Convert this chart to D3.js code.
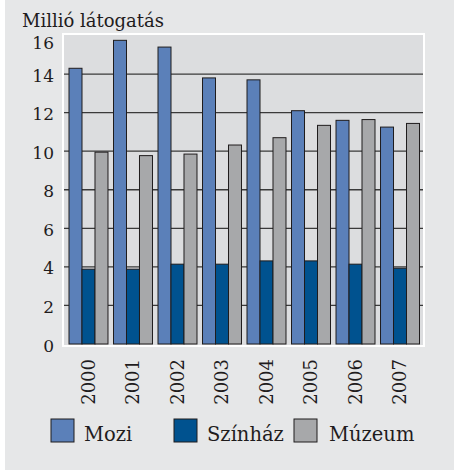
<!DOCTYPE html>
<html>
<head>
<meta charset="utf-8">
<script src="https://cdn.jsdelivr.net/npm/d3@7"></script>
<style>
  body { margin: 0; background: #fff; }
  svg { display: block; }
</style>
</head>
<body>
<svg id="chart" width="454" height="473"></svg>
<script>
// Data
var years = ["2000", "2001", "2002", "2003", "2004", "2005", "2006", "2007"];
var series = ["Mozi", "Színház", "Múzeum"];
var mozi = [14.3, 15.75, 15.4, 13.8, 13.7, 12.1, 11.6, 11.25];
var szinhaz = [3.88, 3.88, 4.14, 4.14, 4.31, 4.31, 4.14, 3.93];
var muzeum = [9.95, 9.77, 9.85, 10.32, 10.7, 11.34, 11.64, 11.44];
var yTicks = [0, 2, 4, 6, 8, 10, 12, 14, 16];
var colors = ["#5b80b9", "#00528f", "#a7a8aa"];

var serif = "'DejaVu Serif', serif";
var ink = "#1f1c1d";

var rows = years.map(function (y, i) {
    return { year: y, values: [mozi[i], szinhaz[i], muzeum[i]] };
});

var svg = d3.select("#chart");

// outer panel
svg.append("rect")
    .attr("x", 5).attr("y", 0)
    .attr("width", 449).attr("height", 470)
    .attr("fill", "#e6e7e8");

// plot frame
var plot = { left: 63, top: 34, right: 424, bottom: 346 };
svg.append("rect")
    .attr("x", plot.left).attr("y", plot.top)
    .attr("width", plot.right - plot.left).attr("height", plot.bottom - plot.top)
    .attr("fill", "#dcdddf")
    .attr("stroke", "#ffffff")
    .attr("stroke-width", 2);

// scales
var yScale = d3.scaleLinear().domain([0, 16]).range([344, 35.5]);
var x0 = d3.scaleBand().domain(years).range([69, 419.5]).paddingInner(0.124);
var x1 = d3.scaleBand().domain(series).range([0, x0.bandwidth()]);

// gridlines
svg.append("g")
    .selectAll("line")
    .data(yTicks.filter(function (d) { return d > 0 && d < 16; }))
    .enter().append("line")
    .attr("x1", plot.left + 1).attr("x2", plot.right - 1)
    .attr("y1", function (d) { return yScale(d); })
    .attr("y2", function (d) { return yScale(d); })
    .attr("stroke", "#3a3a3a")
    .attr("stroke-width", 1.3);

// bars
var groups = svg.append("g")
    .selectAll("g")
    .data(rows)
    .enter().append("g")
    .attr("transform", function (d) { return "translate(" + x0(d.year) + ",0)"; });

groups.selectAll("rect")
    .data(function (d) { return d.values; })
    .enter().append("rect")
    .attr("x", function (d, i) { return x1(series[i]); })
    .attr("width", x1.bandwidth())
    .attr("y", function (d) { return yScale(d); })
    .attr("height", function (d) { return yScale(0) - yScale(d); })
    .attr("fill", function (d, i) { return colors[i]; })
    .attr("stroke", ink)
    .attr("stroke-width", 1);

// y axis labels (top label kept below the title)
svg.append("g")
    .selectAll("text")
    .data(yTicks)
    .enter().append("text")
    .attr("x", 54)
    .attr("y", function (d) { return Math.max(yScale(d) + 1.5, 43); })
    .attr("dy", "0.36em")
    .attr("text-anchor", "end")
    .attr("font-family", serif)
    .attr("font-size", 17)
    .attr("fill", ink)
    .text(function (d) { return d; });

// x axis labels (rotated)
svg.append("g")
    .selectAll("text")
    .data(years)
    .enter().append("text")
    .attr("transform", function (d) {
        return "translate(" + (x0(d) + x0.bandwidth() / 2) + ",359) rotate(-90)";
    })
    .attr("dy", "0.36em")
    .attr("text-anchor", "end")
    .attr("font-family", serif)
    .attr("font-size", 18)
    .attr("fill", ink)
    .text(function (d) { return d; });

// title
svg.append("text")
    .attr("x", 22).attr("y", 27)
    .attr("font-family", serif)
    .attr("font-size", 18)
    .attr("fill", ink)
    .text("Millió látogatás");

// legend
var legendX = [51, 174, 294];
var legend = svg.append("g")
    .selectAll("g")
    .data(series)
    .enter().append("g")
    .attr("transform", function (d, i) { return "translate(" + legendX[i] + ",419)"; });

legend.append("rect")
    .attr("width", 23).attr("height", 23)
    .attr("fill", function (d, i) { return colors[i]; })
    .attr("stroke", ink)
    .attr("stroke-width", 1);

legend.append("text")
    .attr("x", function (d, i) { return i === 2 ? 35 : 33; })
    .attr("y", 22)
    .attr("font-family", serif)
    .attr("font-size", 19.5)
    .attr("fill", ink)
    .text(function (d) { return d; });
</script>
</body>
</html>
